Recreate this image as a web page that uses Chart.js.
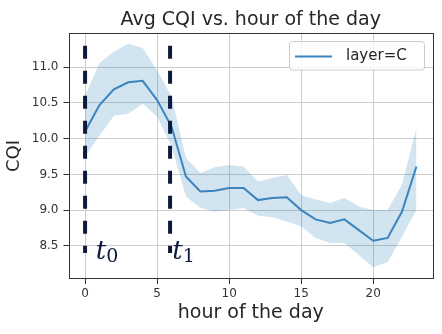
<!DOCTYPE html>
<html>
<head>
<meta charset="utf-8">
<script src="https://cdn.jsdelivr.net/npm/chart.js@4"></script>
<style>
  body { margin: 0; background: #fff; }
</style>
</head>
<body>
<canvas id="chart" width="442" height="334"></canvas>
<script>
// hour of day and average CQI (layer=C), with the shaded confidence band
const hours = [0, 1, 2, 3, 4, 5, 6, 7, 8, 9, 10, 11, 12, 13, 14, 15, 16, 17, 18, 19, 20, 21, 22, 23];
const cqiMean = [10.10, 10.47, 10.69, 10.79, 10.81, 10.54, 10.17, 9.47, 9.26, 9.27, 9.31, 9.31,
                 9.14, 9.17, 9.18, 9.00, 8.87, 8.82, 8.87, 8.72, 8.57, 8.61, 8.98, 9.61];
const cqiUpper = [10.60, 11.06, 11.22, 11.33, 11.27, 10.96, 10.59, 9.73, 9.52, 9.60, 9.63, 9.61,
                  9.40, 9.45, 9.49, 9.21, 9.15, 9.10, 9.17, 9.05, 9.00, 9.00, 9.36, 10.15];
const cqiLower = [9.75, 10.04, 10.32, 10.35, 10.49, 10.31, 9.89, 9.19, 9.03, 8.98, 9.00, 9.03,
                  8.92, 8.90, 8.84, 8.77, 8.61, 8.54, 8.54, 8.37, 8.20, 8.27, 8.63, 9.00];

const xTicks = [0, 5, 10, 15, 20];
const yTicks = [8.5, 9.0, 9.5, 10.0, 10.5, 11.0];

// the two dashed time markers t0 and t1
const markerHours = [0, 5.9];
const markerSubs = ['0', '1'];
const markerTop = 11.3;
const markerBottom = 8.4;
const markerLabelX = [0.75, 6.05];
const markerLabelY = 8.31;

const chartTitle = 'Avg CQI vs. hour of the day';
const seriesLabel = 'layer=C';
const lineColor = '#3b84c0';
const navy = '#0c1b3d';
const textColor = '#262626';

Chart.defaults.font.family = '"DejaVu Sans", sans-serif';

const pts = ys => hours.map((h, i) => ({ x: h, y: ys[i] }));

const markerSets = markerHours.map(h => ({
  data: [{ x: h, y: markerTop }, { x: h, y: markerBottom }],
  borderColor: navy,
  borderWidth: 4,
  borderDash: [13, 12],
  borderCapStyle: 'butt',
  pointRadius: 0,
  fill: false,
  order: 0
}));

// box around the plot and the title centred over it
const framePlugin = {
  id: 'frame',
  afterDraw(chart) {
    const { ctx, chartArea: a } = chart;
    ctx.save();
    ctx.strokeStyle = '#333';
    ctx.lineWidth = 1;
    ctx.strokeRect(Math.round(a.left) + 0.5, Math.round(a.top) + 0.5,
                   Math.round(a.right - a.left) - 1, Math.round(a.bottom - a.top) - 1);
    ctx.fillStyle = textColor;
    ctx.font = '19px "DejaVu Sans"';
    ctx.textAlign = 'center';
    ctx.textBaseline = 'alphabetic';
    ctx.fillText(chartTitle, (a.left + a.right) / 2, a.top - 8.5);
    ctx.restore();
  }
};

const markerLabels = {
  id: 'markerLabels',
  afterDraw(chart) {
    const { ctx, scales: { x, y } } = chart;
    ctx.save();
    ctx.fillStyle = navy;
    ctx.textBaseline = 'alphabetic';
    markerSubs.forEach((sub, i) => {
      const px = x.getPixelForValue(markerLabelX[i]);
      const py = y.getPixelForValue(markerLabelY);
      ctx.font = 'italic 26px "DejaVu Serif"';
      ctx.fillText('t', px, py);
      const w = ctx.measureText('t').width;
      ctx.font = '19px "DejaVu Serif"';
      ctx.fillText(sub, px + w, py + 3);
    });
    ctx.restore();
  }
};

const legendBox = {
  id: 'legendBox',
  afterDraw(chart) {
    const { ctx, chartArea: a } = chart;
    const bx = a.right - 143.5, by = a.top + 8.5, bw = 135, bh = 28.5;
    ctx.save();
    ctx.beginPath();
    ctx.roundRect(bx, by, bw, bh, 3);
    ctx.fillStyle = 'rgba(255,255,255,0.8)';
    ctx.fill();
    ctx.strokeStyle = '#cccccc';
    ctx.lineWidth = 1;
    ctx.stroke();
    ctx.beginPath();
    ctx.moveTo(bx + 5.5, by + 15);
    ctx.lineTo(bx + 42.5, by + 15);
    ctx.strokeStyle = lineColor;
    ctx.lineWidth = 2;
    ctx.stroke();
    ctx.fillStyle = textColor;
    ctx.font = '15px "DejaVu Sans"';
    ctx.textBaseline = 'middle';
    ctx.fillText(seriesLabel, bx + 56.5, by + 15);
    ctx.restore();
  }
};

new Chart(document.getElementById('chart'), {
  type: 'line',
  data: {
    datasets: [
      ...markerSets,
      {
        label: seriesLabel,
        data: pts(cqiMean),
        borderColor: lineColor,
        borderWidth: 2,
        pointRadius: 0,
        tension: 0,
        fill: false,
        order: 1
      },
      {
        data: pts(cqiUpper),
        borderWidth: 0,
        pointRadius: 0,
        backgroundColor: 'rgba(31,119,180,0.2)',
        fill: '+1',
        order: 2
      },
      {
        data: pts(cqiLower),
        borderWidth: 0,
        pointRadius: 0,
        fill: false,
        order: 3
      }
    ]
  },
  options: {
    responsive: false,
    animation: false,
    devicePixelRatio: 1,
    layout: { padding: { left: 0, right: 9, top: 33, bottom: 0 } },
    plugins: {
      legend: { display: false },
      tooltip: { enabled: false },
      title: { display: false }
    },
    scales: {
      x: {
        type: 'linear',
        min: -1.15,
        max: 24.15,
        afterBuildTicks: s => { s.ticks = xTicks.map(v => ({ value: v })); },
        afterFit: s => { s.height = 55; },
        ticks: { color: '#333', font: { size: 12 }, padding: 3, maxRotation: 0, autoSkip: false,
                 callback: v => String(v) },
        grid: { color: '#cccccc', tickColor: '#333', tickLength: 5, lineWidth: 1 },
        border: { display: false },
        title: { display: true, text: 'hour of the day', color: textColor,
                 font: { size: 19 }, padding: { top: 0, bottom: 10 } }
      },
      y: {
        min: 8.035,
        max: 11.48,
        afterBuildTicks: s => { s.ticks = yTicks.map(v => ({ value: v })); },
        afterFit: s => { s.width = 68.5; },
        ticks: { color: '#333', font: { size: 12 }, padding: 5, autoSkip: false,
                 callback: v => v.toFixed(1) },
        grid: { color: '#cccccc', tickColor: '#333', tickLength: 5, lineWidth: 1 },
        border: { display: false },
        title: { display: true, text: 'CQI', color: textColor,
                 font: { size: 18 }, padding: { top: 4, bottom: 0 } }
      }
    }
  },
  plugins: [framePlugin, markerLabels, legendBox]
});
</script>
</body>
</html>
